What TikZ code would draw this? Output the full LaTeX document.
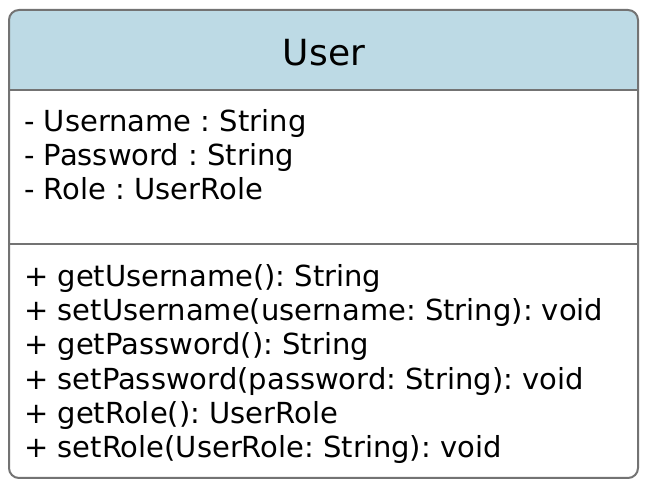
\documentclass[tikz,border=0pt]{standalone}
\usepackage{fontspec}
\setmainfont{DejaVu Sans}
\usetikzlibrary{positioning}
\frenchspacing

\tikzset{
  member/.style={anchor=base west, inner sep=0pt, font=\fontsize{29}{30}\selectfont},
  divider/.style={draw=black!55, line width=1.6pt}
}

\begin{document}
\begin{tikzpicture}[x=1pt, y=1pt]
\useasboundingbox (0,0) rectangle (648,490);
% class box
\fill[fill=white, rounded corners=10pt] (9,12) rectangle (638,480);
\begin{scope}
\clip[rounded corners=10pt] (9,12) rectangle (638,480);
\fill[fill={rgb,255:red,189;green,218;blue,229}] (9,400) rectangle (638,480);
\end{scope}
\draw[divider] (9,400) -- (638,400);
\draw[divider] (9,246) -- (638,246);
\draw[draw=black!55, line width=2pt, rounded corners=10pt] (9,12) rectangle (638,480);

\node[anchor=center, inner sep=0pt, font=\fontsize{36}{40}\selectfont] (title) at (324,437) {User};

\node[member] (a1) at (24,358) {- Username : String};
\node[member] (a2) at (24,324) {- Password : String};
\node[member] (a3) at (24,290) {- Role : UserRole};

\node[member] (m1) at (24,203) {+ getUsername(): String};
\node[member] (m2) at (24,169) {+ setUsername(username: String): void};
\node[member] (m3) at (24,135) {+ getPassword(): String};
\node[member] (m4) at (24,100) {+ setPassword(password: String): void};
\node[member] (m5) at (24,66) {+ getRole(): UserRole};
\node[member] (m6) at (24,32) {+ setRole(UserRole: String): void};
\end{tikzpicture}
\end{document}
